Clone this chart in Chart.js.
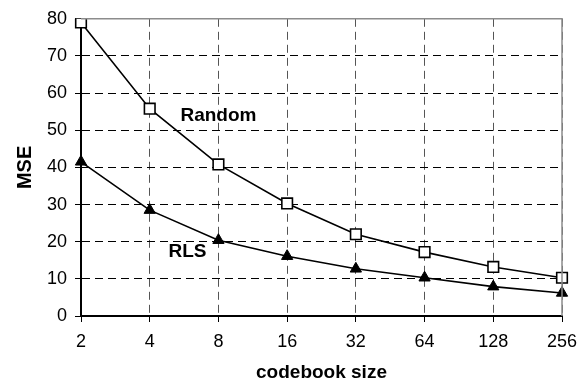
<!DOCTYPE html>
<html>
<head>
<meta charset="utf-8">
<script src="https://cdn.jsdelivr.net/npm/chart.js@4/dist/chart.umd.min.js"></script>
<style>
  html, body { margin: 0; padding: 0; background: #fff; }
  #wrap { width: 587px; height: 385px; }
</style>
</head>
<body>
<div id="wrap"><canvas id="myChart"></canvas></div>
<script>
// codebook sizes on the x axis
let sizes = ['2', '4', '8', '16', '32', '64', '128', '256'];
let randomMse = [79, 55.8, 40.8, 30.3, 22, 17.2, 13.2, 10.3];
let rlsMse = [41.5, 28.5, 20.4, 16.1, 12.7, 10.3, 7.9, 6.2];
let yTicks = [0, 10, 20, 30, 40, 50, 60, 70, 80];

// where the two series names sit, in data units (category index, MSE)
let seriesLabels = [
    { text: 'Random', x: 2.0, y: 54 },
    { text: 'RLS', x: 1.55, y: 17.2 }
];

let font = "'Liberation Sans', Arial, sans-serif";

// gray frame on top / right plus the in-plot series names
let extras = {
    id: 'extras',
    afterDraw(chart) {
        let c = chart.ctx;
        let a = chart.chartArea;
        c.save();
        c.strokeStyle = '#8c8c8c';
        c.lineWidth = 1.5;
        c.beginPath();
        c.moveTo(a.left, a.top);
        c.lineTo(a.right, a.top);
        c.lineTo(a.right, a.bottom);
        c.stroke();

        c.fillStyle = '#000';
        c.font = 'bold 19px ' + font;
        c.textAlign = 'center';
        c.textBaseline = 'middle';
        seriesLabels.forEach(l => {
            let px = chart.scales.x.getPixelForValue(l.x);
            let py = chart.scales.y.getPixelForValue(l.y);
            c.fillText(l.text, px, py);
        });
        c.restore();
    }
};

let ctx = document.getElementById('myChart').getContext('2d');

let myChart = new Chart(ctx, {
    type: 'line',
    data: {
        labels: sizes,
        datasets: [{
            label: 'Random',
            data: randomMse,
            borderColor: '#000',
            borderWidth: 1.6,
            pointStyle: 'rect',
            pointRadius: 7.5,
            pointBackgroundColor: '#fff',
            pointBorderColor: '#000',
            pointBorderWidth: 1.6,
            tension: 0
        }, {
            label: 'RLS',
            data: rlsMse,
            borderColor: '#000',
            borderWidth: 1.6,
            pointStyle: 'triangle',
            pointRadius: 6.5,
            pointBackgroundColor: '#000',
            pointBorderColor: '#000',
            pointBorderWidth: 1,
            tension: 0
        }]
    },
    options: {
        responsive: true,
        maintainAspectRatio: false,
        animation: false,
        layout: {
            padding: { top: 18, right: 25, left: 0, bottom: 1 }
        },
        scales: {
            x: {
                afterFit: axis => { axis.height = 68; },
                grid: {
                    color: '#555',
                    lineWidth: 1,
                    tickLength: 6,
                    tickColor: '#000',
                    tickBorderDash: []
                },
                border: { color: '#000', width: 2, dash: [8, 5] },
                ticks: {
                    color: '#000',
                    font: { family: font, size: 18 },
                    padding: 9,
                    maxRotation: 0
                },
                title: {
                    display: true,
                    text: 'codebook size',
                    color: '#000',
                    font: { family: font, size: 19, weight: 'bold' },
                    padding: { top: 0, bottom: 0 }
                }
            },
            y: {
                min: 0,
                max: 80,
                afterFit: axis => { axis.width = 81; },
                afterBuildTicks: axis => {
                    axis.ticks = yTicks.map(v => ({ value: v }));
                },
                grid: {
                    color: '#000',
                    lineWidth: 1,
                    tickLength: 6,
                    tickColor: '#000',
                    tickBorderDash: []
                },
                border: { color: '#000', width: 2, dash: [8, 5] },
                ticks: {
                    color: '#000',
                    font: { family: font, size: 18 },
                    padding: 8
                },
                title: {
                    display: true,
                    text: 'MSE',
                    color: '#000',
                    font: { family: font, size: 20, weight: 'bold' },
                    padding: { top: 13, bottom: 0 }
                }
            }
        },
        plugins: {
            legend: { display: false },
            tooltip: { enabled: false }
        }
    },
    plugins: [extras]
});
</script>
</body>
</html>
